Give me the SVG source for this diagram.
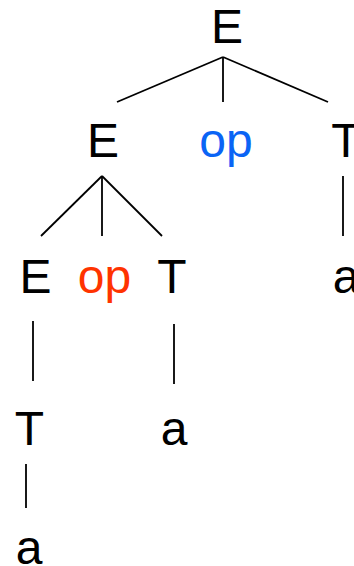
<svg xmlns="http://www.w3.org/2000/svg" width="354" height="566" viewBox="0 0 354 566">
<style>
text{font-family:"Liberation Sans",Arial,sans-serif;font-size:48px;text-anchor:middle;fill:#000}
.blue{fill:#0a64f5}
.red{fill:#ff3300}
#edges line{stroke:#000;stroke-width:1.8;stroke-linecap:butt}
</style>
<rect width="354" height="566" fill="#fff"/>
<g id="edges">
<line x1="223" y1="57" x2="117" y2="102"/>
<line x1="223" y1="57" x2="223" y2="102"/>
<line x1="223" y1="57" x2="328" y2="102"/>
<line x1="102" y1="176" x2="41" y2="236"/>
<line x1="102" y1="176" x2="102" y2="236"/>
<line x1="102" y1="176" x2="162" y2="236"/>
<line x1="343" y1="176" x2="343" y2="236"/>
<line x1="33" y1="321" x2="33" y2="381"/>
<line x1="174" y1="324" x2="174" y2="384"/>
<line x1="26" y1="464" x2="26" y2="508"/>
</g>
<g id="n-E-root"><text x="227" y="43">E</text></g>
<g id="n-E-1"><text x="103" y="157">E</text></g>
<g id="n-op-1"><text class="blue" x="226" y="157">op</text></g>
<g id="n-T-1"><text x="346" y="157">T</text></g>
<g id="n-E-2"><text x="35.5" y="293">E</text></g>
<g id="n-op-2"><text class="red" x="104.5" y="293">op</text></g>
<g id="n-T-2"><text x="172" y="293">T</text></g>
<g id="n-a-1"><text x="346" y="293">a</text></g>
<g id="n-T-3"><text x="29.5" y="445">T</text></g>
<g id="n-a-2"><text x="174" y="445">a</text></g>
<g id="n-a-3"><text x="29" y="564">a</text></g>
</svg>
